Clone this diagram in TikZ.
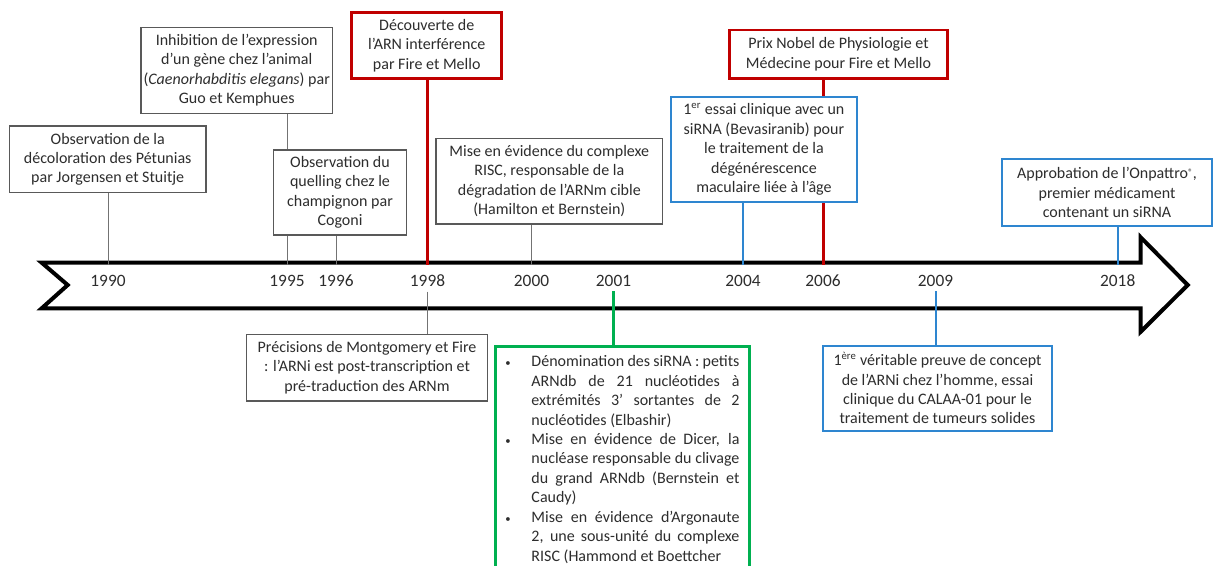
\documentclass[tikz,border=0pt]{standalone}
\usepackage{fontspec}
\setmainfont{Carlito}
\usetikzlibrary{positioning,backgrounds}

\definecolor{nobelred}{RGB}{192,0,0}
\definecolor{trialblue}{RGB}{46,134,208}
\definecolor{sirnagreen}{RGB}{0,176,80}
\definecolor{txtgray}{RGB}{45,45,45}

% justified line of the green box
\newcommand{\jline}[1]{\makebox[156pt][s]{#1}}
\newcommand{\blt}{{\footnotesize\textbullet}}

\begin{document}
\begin{tikzpicture}[x=0.75pt, y=-0.75pt,
    every node/.style={text=txtgray, font=\fontsize{12}{14.6}\selectfont},
    event/.style={draw=black!65, line width=1pt, fill=white, align=center, inner sep=2pt},
    keyevent/.style={event, draw=nobelred, line width=2pt},
    clinic/.style={event, draw=trialblue, line width=1.5pt},
    year/.style={font=\fontsize{13}{15}\selectfont},
    tick/.style={black!55, line width=0.75pt},
  ]
    \useasboundingbox (0,0) rectangle (1216,565);

    % Events above the time line
    \node[event, minimum width=147.5pt, minimum height=50pt] (peto) at (107.7,159.3)
        {Observation de la\\d\'ecoloration des P\'etunias\\par Jorgensen et Stuitje};
    \node[event, minimum width=141pt, minimum height=64.5pt] (inhib) at (236.7,70.3)
        {Inhibition de l’expression\\d’un g\`ene chez l’animal\\(\textit{Caenorhabditis elegans}) par\\Guo et Kemphues};
    \node[event, minimum width=100pt, minimum height=63.75pt] (cogoni) at (340,192.5)
        {Observation du\\quelling chez le\\champignon par\\Cogoni};
    \node[keyevent, minimum width=112.5pt, minimum height=49.2pt] (decouv) at (426.7,45.5)
        {D\'ecouverte de\\l’ARN interf\'erence\\par Fire et Mello};
    \node[event, minimum width=170pt, minimum height=64.3pt] (risc) at (549.3,181.2)
        {Mise en \'evidence du complexe\\RISC, responsable de la\\d\'egradation de l’ARNm cible\\(Hamilton et Bernstein)};
    \node[keyevent, minimum width=163.8pt, minimum height=36.2pt] (nobel) at (838.5,54.2)
        {Prix Nobel de Physiologie et\\M\'edecine pour Fire et Mello};
    \node[clinic, minimum width=139.3pt, minimum height=79.2pt] (essai) at (763.9,149.5)
        {1\textsuperscript{er} essai clinique avec un\\siRNA (Bevasiranib) pour\\le traitement de la\\d\'eg\'en\'erescence\\maculaire li\'ee \`a l’\^age};
    \node[clinic, minimum width=157.3pt, minimum height=50pt] (onpattro) at (1107,192.7)
        {Approbation de l’Onpattro\raisebox{0.45ex}{\scriptsize ®},\\premier m\'edicament\\contenant un siRNA};

    % Events below the time line
    \node[event, minimum width=180.5pt, minimum height=50pt] (montg) at (367,367.7)
        {Pr\'ecisions de Montgomery et Fire\\: l’ARNi est post-transcription et\\pr\'e-traduction des ARNm};
    \node[event, draw=sirnagreen, line width=2pt, anchor=north west, align=left,
          inner xsep=7pt, inner ysep=5pt, minimum width=190.7pt] (sirna) at (494,345)
        {\begin{tabular}{@{}p{19.5pt}@{}l@{}}
          \blt & \jline{D\'enomination des siRNA : petits}\\
           & \jline{ARNdb de 21 nucl\'eotides \`a}\\
           & \jline{extr\'emit\'es 3’ sortantes de 2}\\
           & nucl\'eotides (Elbashir)\\
          \blt & \jline{Mise en \'evidence de Dicer, la}\\
           & \jline{nucl\'ease responsable du clivage}\\
           & \jline{du grand ARNdb (Bernstein et}\\
           & Caudy)\\
          \blt & \jline{Mise en \'evidence d’Argonaute}\\
           & \jline{2, une sous-unit\'e du complexe}\\
           & RISC (Hammond et Boettcher
        \end{tabular}};
    \node[clinic, minimum width=171.3pt, minimum height=64pt] (calaa) at (937.5,388.3)
        {1\textsuperscript{\`ere} v\'eritable preuve de concept\\de l’ARNi chez l’homme, essai\\clinique du CALAA-01 pour le\\traitement de tumeurs solides};

    % Years
    \node[year] (l1990) at (108,281) {1990};
    \node[year] (l1995) at (287,281) {1995};
    \node[year] (l1996) at (336,281) {1996};
    \node[year] (l1998) at (427.5,281) {1998};
    \node[year] (l2000) at (531.5,281) {2000};
    \node[year] (l2001) at (613.5,281) {2001};
    \node[year] (l2004) at (743,281) {2004};
    \node[year] (l2006) at (823,281) {2006};
    \node[year] (l2009) at (935.5,281) {2009};
    \node[year] (l2018) at (1117.7,281) {2018};

    \begin{scope}[on background layer]
    % Time line arrow
    \draw[line width=3pt, fill=white] (41.7,262.7) -- (1140.7,262.7) -- (1140.7,237.3) -- (1187.7,285)
        -- (1140.7,331.7) -- (1140.7,308.3) -- (41.7,308.3) -- (67.7,285) -- cycle;
    \coordinate (btop) at (0,265);

    % Links above
    \draw[tick] (peto.south -| l1990) -- (l1990 |- btop);
    \draw[tick] (inhib.south -| l1995) -- (l1995 |- btop);
    \draw[tick] (cogoni.south -| l1996) -- (l1996 |- btop);
    \draw[nobelred, line width=2.25pt] (decouv.south -| l1998) -- (l1998 |- btop);
    \draw[tick] (risc.south -| l2000) -- (l2000 |- btop);
    \draw[trialblue, line width=1.5pt] (essai.south -| l2004) -- (l2004 |- btop);
    \draw[nobelred, line width=2.25pt] (nobel.south -| l2006) -- (l2006 |- btop);
    \draw[trialblue, line width=1.5pt] (onpattro.south -| l2018) -- (l2018 |- btop);

    % Links below
    \draw[tick] (l1998.south) -- (l1998.south |- montg.north);
    \draw[sirnagreen, line width=2pt] (l2001.south) -- (l2001.south |- sirna.north);
    \draw[trialblue, line width=1.5pt] (l2009.south) -- (l2009.south |- calaa.north);
    \end{scope}
\end{tikzpicture}
\end{document}
